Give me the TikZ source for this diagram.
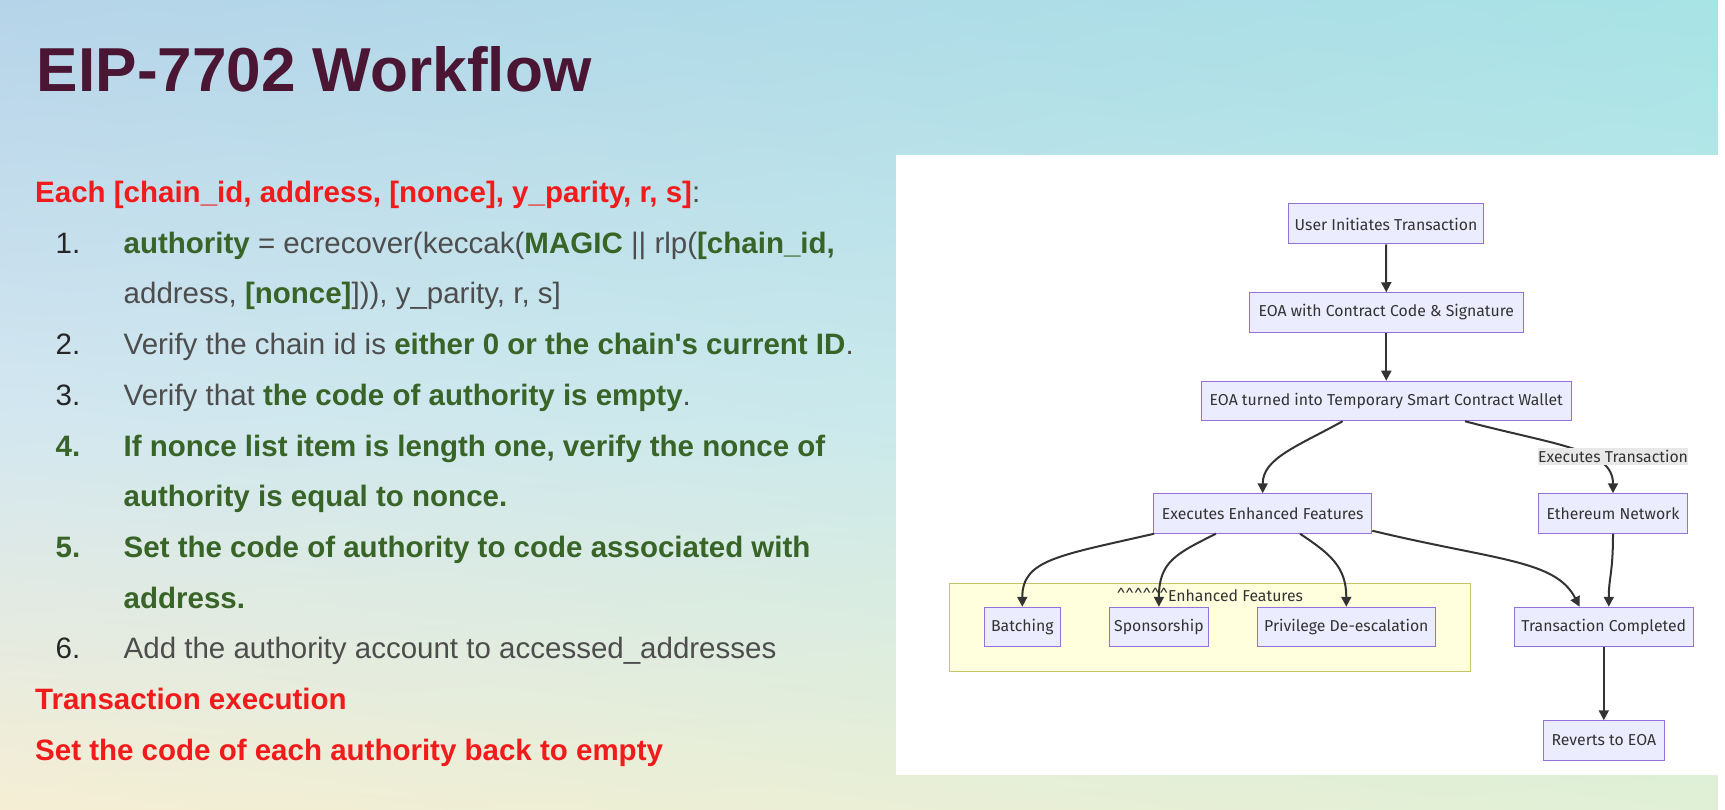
\documentclass[tikz,border=0pt]{standalone}
\usepackage{fontspec}
\setmainfont{Liberation Sans}
\newfontfamily\merm{Fira Sans}
\usetikzlibrary{calc,arrows.meta,shadings}

\definecolor{ttl}{HTML}{4A1634}
\definecolor{rd}{HTML}{F21B1B}
\definecolor{gn}{HTML}{386428}
\definecolor{gy}{HTML}{4D4D4D}
\definecolor{nm}{HTML}{262626}
\definecolor{mfill}{HTML}{ECECFF}
\definecolor{mstroke}{HTML}{9370DB}
\definecolor{sfill}{HTML}{FFFFDE}
\definecolor{sstroke}{HTML}{C4C46A}
\definecolor{edgec}{HTML}{333333}
\definecolor{lblbg}{HTML}{E8E8E8}
\definecolor{bgUL}{HTML}{B6D4E9}
\definecolor{bgUR}{HTML}{A8E3E6}
\definecolor{bgML}{HTML}{D3E7F0}
\definecolor{bgMR}{HTML}{C2EBE8}
\definecolor{bgLL}{HTML}{F5EED4}
\definecolor{bgLR}{HTML}{E0F0D6}

\newcommand\GNb[1]{{\bfseries\color{gn}#1}}

\begin{document}
\begin{tikzpicture}[x=1pt,y=-1pt,
  txt/.style={anchor=base west, inner sep=0pt, font=\fontsize{29.5}{35}\selectfont, text=gy},
  numtxt/.style={anchor=base west, inner sep=0pt, font=\fontsize{29.5}{35}\selectfont, text=nm},
  redtxt/.style={anchor=base west, inner sep=0pt, font=\bfseries\fontsize{29.5}{35}\selectfont, text=rd},
  grtxt/.style={anchor=base west, inner sep=0pt, font=\bfseries\fontsize{29.5}{35}\selectfont, text=gn},
  mfont/.style={font=\merm\fontsize{15.8}{18}\selectfont, text=edgec},
  mnode/.style={draw=mstroke, fill=mfill, line width=1pt, minimum height=39.5pt, inner sep=0pt, mfont},
  conn/.style={draw=edgec, line width=2pt, -{Triangle[length=10pt,width=10pt]}}
]
\useasboundingbox (0,0) rectangle (1725,810);
\shade[upper left=bgUL, upper right=bgUR, lower left=bgML, lower right=bgMR] (0,0) rectangle (1725,420.5);
\shade[upper left=bgML, upper right=bgMR, lower left=bgLL, lower right=bgLR] (0,420) rectangle (1725,810);
\fill[white] (1718,0) rectangle (1725,810);
\fill[white] (896,155) rectangle (1718,775);

% title
\node[anchor=base west, inner sep=0pt, font=\bfseries\fontsize{62.1}{70}\selectfont, text=ttl] (title) at (36.7,91.5) {EIP-7702 Workflow};

% left text
\node[redtxt] (l0) at (35,202.5) {Each [chain\_id, address, [nonce], y\_parity, r, s]{\mdseries\color{gy}:}};
\node[numtxt] (n1) at (55.5,253.2) {1.};
\node[txt] (l1) at (123.5,253.2) {\GNb{authority} = ecrecover(keccak(\GNb{MAGIC} || rlp(\GNb{[chain\_id,}};
\node[txt] (l2) at (123.5,303.9) {address, \GNb{[nonce]}])), y\_parity, r, s]};
\node[numtxt] (n2) at (55.5,354.5) {2.};
\node[txt] (l3) at (123.5,354.5) {Verify the chain id is \GNb{either 0 or the chain\textquotesingle s current ID}.};
\node[numtxt] (n3) at (55.5,405.3) {3.};
\node[txt] (l4) at (123.5,405.3) {Verify that \GNb{the code of authority is empty}.};
\node[grtxt] (n4) at (55.5,456) {4.};
\node[grtxt] (l5) at (123.5,456) {If nonce list item is length one, verify the nonce of};
\node[grtxt] (l6) at (123.5,506.5) {authority is equal to nonce.};
\node[grtxt] (n5) at (55.5,557.5) {5.};
\node[grtxt] (l7) at (123.5,557.5) {Set the code of authority to code associated with};
\node[grtxt] (l8) at (123.5,608.1) {address.};
\node[numtxt] (n6) at (55.5,658.5) {6.};
\node[txt] (l9) at (123.5,658.5) {Add the authority account to accessed\_addresses};
\node[redtxt] (l10) at (35,709.5) {Transaction execution};
\node[redtxt] (l11) at (35,760.2) {Set the code of each authority back to empty};

% subgraph
\node[draw=sstroke, fill=sfill, line width=1pt, minimum width=521pt, minimum height=88pt, inner sep=0pt] (sub) at (1210,627) {};
\node[inner sep=0pt, mfont] (sublbl) at (1210,595) {\textasciicircum\textasciicircum\textasciicircum\textasciicircum\textasciicircum\textasciicircum Enhanced Features};

% nodes
\node[mnode, minimum width=195.5pt, minimum height=40pt] (user) at (1386,224) {User Initiates Transaction};
\node[mnode, minimum width=274pt] (eoaw) at (1386.3,312.5) {EOA with Contract Code \& Signature};
\node[mnode, minimum width=370.6pt] (eoat) at (1386.3,401) {EOA turned into Temporary Smart Contract Wallet};
\node[mnode, minimum width=218.3pt] (exf) at (1262.7,513.5) {Executes Enhanced Features};
\node[mnode, minimum width=149pt] (eth) at (1613,513.5) {Ethereum Network};
\node[mnode, minimum width=76pt] (bat) at (1022.3,627) {Batching};
\node[mnode, minimum width=99pt] (spo) at (1158.9,627) {Sponsorship};
\node[mnode, minimum width=178pt] (pri) at (1346.3,627) {Privilege De-escalation};
\node[mnode, minimum width=178.4pt] (tc) at (1603.8,627) {Transaction Completed};
\node[mnode, minimum width=121pt] (rev) at (1603.8,740.5) {Reverts to EOA};

% edges
\draw[conn] (user.south) -- (eoaw.north);
\draw[conn] (eoaw.south) -- (eoat.north);
\draw[conn] ($(eoat.south)+(-43.7,0)$) .. controls +(-45,25) and +(0,-35) .. (exf.north);
\draw[conn] ($(eoat.south)+(78.7,0)$) .. controls +(91,24) and +(0,-44) .. (eth.north);
\draw[conn] ($(exf.south west)+(1,0)$) .. controls +(-96,22) and +(0,-47) .. (bat.north);
\draw[conn] ($(exf.south)+(-46.8,0)$) .. controls +(-40,20) and +(0,-45) .. (spo.north);
\draw[conn] ($(exf.south)+(37.3,0)$) .. controls +(30,20) and +(0,-40) .. (pri.north);
\draw[conn] ($(exf.south east)+(0,-3)$) .. controls +(125,30) and +(-24,-47) .. ($(tc.north)+(-24.2,0)$);
\draw[conn] (eth.south) .. controls +(0,40) and +(0,-30) .. ($(tc.north)+(5,0)$);
\draw[conn] (tc.south) -- (rev.north);

% edge label
\node[fill=lblbg, inner sep=0pt, minimum width=149pt, minimum height=17pt, mfont] (lbl) at (1613,456.5) {Executes Transaction};
\end{tikzpicture}
\end{document}
